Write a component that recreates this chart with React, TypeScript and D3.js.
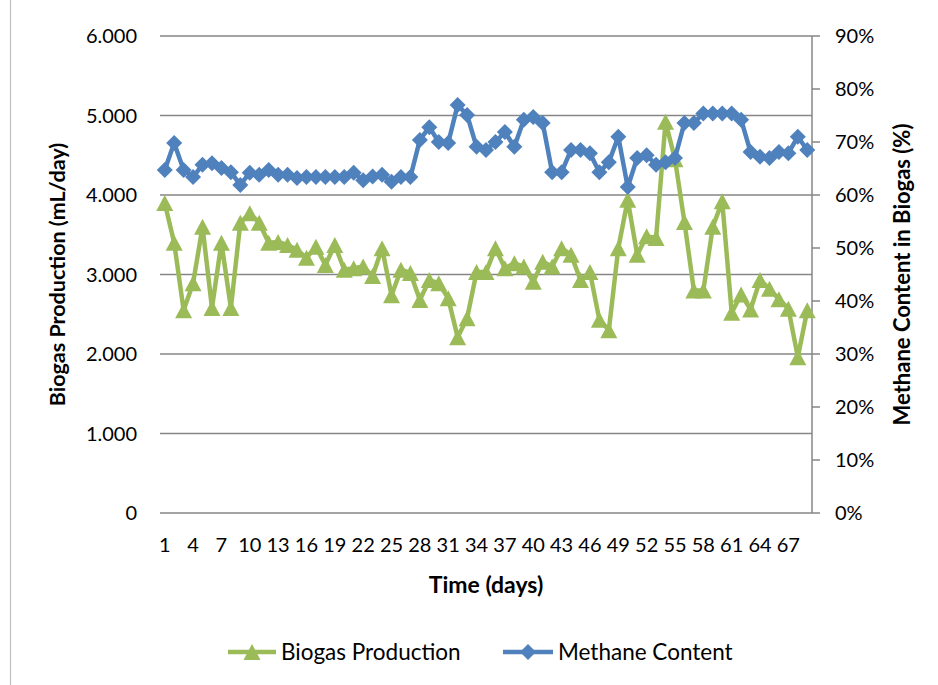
import React from "react";
import * as d3 from "d3";

const days: number[] = d3.range(1, 70);

const biogasProduction: number[] = [
  3900, 3400, 2550, 2890, 3600, 2580, 3400, 2580, 3650, 3770,
  3650, 3400, 3410, 3370, 3310, 3210, 3350, 3120, 3370, 3060,
  3080, 3100, 2980, 3330, 2740, 3060, 3020, 2680, 2930, 2890,
  2700, 2210, 2450, 3030, 3030, 3330, 3080, 3140, 3100, 2910,
  3160, 3100, 3330, 3250, 2930, 3030, 2430, 2300, 3330, 3940,
  3250, 3480, 3460, 4920, 4450, 3660, 2800, 2800, 3600, 3920,
  2520, 2750, 2560, 2930, 2820, 2690, 2570, 1960, 2550,
];

const methaneContent: number[] = [
  64.7, 69.8, 64.7, 63.4, 65.7, 66.0, 65.1, 64.3, 61.9, 64.2,
  63.8, 64.7, 63.8, 63.8, 63.2, 63.4, 63.4, 63.4, 63.4, 63.4,
  64.2, 62.8, 63.5, 63.8, 62.5, 63.4, 63.4, 70.4, 72.8, 70.0,
  69.8, 77.0, 75.1, 69.1, 68.5, 70.0, 71.9, 69.1, 74.2, 74.7,
  73.6, 64.3, 64.3, 68.5, 68.5, 67.9, 64.3, 66.2, 71.0, 61.5,
  67.0, 67.5, 65.7, 66.2, 67.0, 73.6, 73.6, 75.4, 75.4, 75.4,
  75.4, 74.2, 68.1, 67.2, 67.0, 68.1, 67.9, 71.0, 68.5,
];

const leftTicks: number[] = [0, 1000, 2000, 3000, 4000, 5000, 6000];
const rightTicks: number[] = [0, 10, 20, 30, 40, 50, 60, 70, 80, 90];
const xTickDays: number[] = days.filter((d) => (d - 1) % 3 === 0);

const seriesNames = ["Biogas Production", "Methane Content"];
const GREEN = "#9BBB59";
const BLUE = "#4F81BD";
const GRID = "#868686";
const FONT = "Lato, 'Open Sans', sans-serif";

const W = 938;
const H = 685;
const plotLeft = 160;
const plotRight = 812;
const plotTop = 36;
const plotBottom = 513;

const locale = d3.formatLocale({ decimal: ",", thousands: ".", grouping: [3], currency: ["", ""] });
const fmtLeft = locale.format(",d");

function triangle(x: number, y: number, hw = 8.5, hh = 8) {
  return `M${x},${y - hh}L${x + hw},${y + hh}L${x - hw},${y + hh}Z`;
}
function diamond(x: number, y: number, r = 8) {
  return `M${x},${y - r}L${x + r},${y}L${x},${y + r}L${x - r},${y}Z`;
}

export default function App() {
  const x = d3
    .scaleBand<number>()
    .domain(days)
    .range([plotLeft, plotRight])
    .paddingInner(0)
    .paddingOuter(0);
  const cx = (d: number) => (x(d) as number) + x.bandwidth() / 2;
  const yL = d3.scaleLinear().domain([0, 6000]).range([plotBottom, plotTop]);
  const yR = d3.scaleLinear().domain([0, 90]).range([plotBottom, plotTop]);

  const greenLine = d3
    .line<number>()
    .x((_, i) => cx(days[i]))
    .y((v) => yL(v))(biogasProduction) as string;
  const blueLine = d3
    .line<number>()
    .x((_, i) => cx(days[i]))
    .y((v) => yR(v))(methaneContent) as string;

  return (
    <svg
      width={W}
      height={H}
      style={{ position: "absolute", left: 0, top: 0, background: "#fff" }}
      fontFamily={FONT}
    >
      <rect x={0} y={0} width={W} height={H} fill="#fff" />
      <line x1={10.5} x2={10.5} y1={0} y2={H} stroke="#BFBFBF" strokeWidth={1.2} />

      {leftTicks.map((t) => (
        <line
          key={"g" + t}
          x1={plotLeft}
          x2={plotRight}
          y1={yL(t)}
          y2={yL(t)}
          stroke={GRID}
          strokeWidth={1.5}
        />
      ))}
      <line x1={plotRight} x2={plotRight} y1={plotTop} y2={plotBottom} stroke={GRID} strokeWidth={1.5} />
      {rightTicks.map((t) => (
        <line key={"rt" + t} x1={plotRight} x2={plotRight + 8} y1={yR(t)} y2={yR(t)} stroke={GRID} strokeWidth={1.5} />
      ))}

      {leftTicks.map((t) => (
        <text key={"l" + t} x={137} y={yL(t)} dy="0.35em" textAnchor="end" fontSize={20} fill="#000">
          {fmtLeft(t)}
        </text>
      ))}
      {rightTicks.map((t) => (
        <text key={"r" + t} x={835} y={yR(t)} dy="0.35em" textAnchor="start" fontSize={20} fill="#000">
          {`${t}%`}
        </text>
      ))}
      {xTickDays.map((d) => (
        <text key={"x" + d} x={cx(d)} y={545} dy="0.35em" textAnchor="middle" fontSize={20} fill="#000">
          {d}
        </text>
      ))}

      <text
        transform={`translate(57,${(plotTop + plotBottom) / 2}) rotate(-90)`}
        textAnchor="middle"
        dy="0.35em"
        fontSize={21.5}
        fontWeight="bold"
      >
        Biogas Production (mL/day)
      </text>
      <text
        transform={`translate(902,${(plotTop + plotBottom) / 2}) rotate(-90)`}
        textAnchor="middle"
        dy="0.35em"
        fontSize={22}
        fontWeight="bold"
      >
        Methane Content in Biogas (%)
      </text>
      <text x={486} y={585} dy="0.35em" textAnchor="middle" fontSize={23} fontWeight="bold">
        Time (days)
      </text>

      <path d={greenLine} fill="none" stroke={GREEN} strokeWidth={4.5} strokeLinejoin="round" />
      {biogasProduction.map((v, i) => (
        <path key={"gt" + i} d={triangle(cx(days[i]), yL(v))} fill={GREEN} />
      ))}
      <path d={blueLine} fill="none" stroke={BLUE} strokeWidth={4.5} strokeLinejoin="round" />
      {methaneContent.map((v, i) => (
        <path key={"bd" + i} d={diamond(cx(days[i]), yR(v))} fill={BLUE} />
      ))}

      <line x1={228} x2={276} y1={652} y2={652} stroke={GREEN} strokeWidth={4.5} />
      <path d={triangle(252, 652)} fill={GREEN} />
      <text x={281} y={652} dy="0.35em" fontSize={22.5}>
        {seriesNames[0]}
      </text>
      <line x1={503} x2={553} y1={652} y2={652} stroke={BLUE} strokeWidth={4.5} />
      <path d={diamond(528, 652)} fill={BLUE} />
      <text x={558} y={652} dy="0.35em" fontSize={22.5}>
        {seriesNames[1]}
      </text>
    </svg>
  );
}
